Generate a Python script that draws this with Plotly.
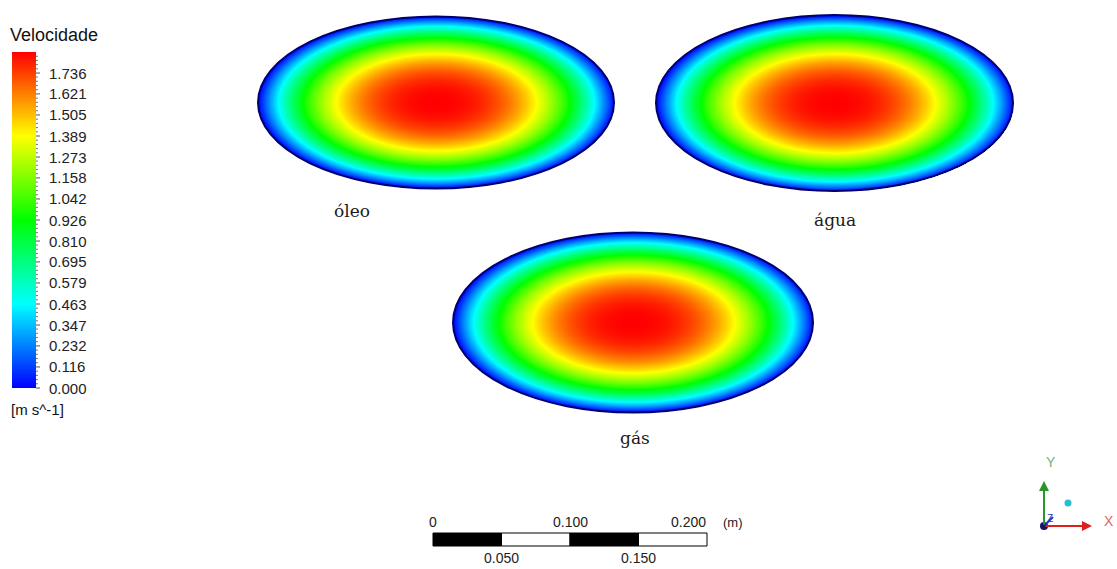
import numpy as np
import plotly.graph_objects as go

# --- data ---------------------------------------------------------------
phases = ["óleo", "água", "gás"]
u_peak = [1.852, 1.852, 1.852]          # peak velocity on each section [m/s]
profile_exp = 2.4                        # shape exponent of the velocity profile
v_min, v_max = 0.0, 1.852                # legend range [m/s]
legend_ticks = [0.000, 0.116, 0.232, 0.347, 0.463, 0.579, 0.695, 0.810,
                0.926, 1.042, 1.158, 1.273, 1.389, 1.505, 1.621, 1.736]
ruler_top = [0.0, 0.100, 0.200]
ruler_bottom = [0.050, 0.150]
ruler_segments = [0.0, 0.05, 0.10, 0.15, 0.20]

# --- view geometry (metres, 1370 px per metre) --------------------------
W, H = 1117, 569
PPM = 1370.0
ORIGIN_PX = 433.0


def mx(px):
    return (px - ORIGIN_PX) / PPM


def my(py):
    return (H - py) / PPM


def pxp(px, py):
    return px / W, 1 - py / H


# section centres / semi-axes in metres
sections = [
    dict(cx=mx(436.0), cy=my(102.5), a=178.0 / PPM, b=86.0 / PPM, lab=(352, 211)),
    dict(cx=mx(834.5), cy=my(103.0), a=178.5 / PPM, b=88.0 / PPM, lab=(835, 220)),
    dict(cx=mx(633.0), cy=my(322.5), a=180.0 / PPM, b=90.0 / PPM, lab=(635, 438)),
]

rainbow = [
    [0.00, "rgb(0,0,255)"],
    [0.25, "rgb(0,255,255)"],
    [0.50, "rgb(0,255,0)"],
    [0.75, "rgb(255,255,0)"],
    [1.00, "rgb(255,0,0)"],
]

fig = go.Figure()
step = 1.0 / PPM
for sec, umax in zip(sections, u_peak):
    xs = np.arange(sec["cx"] - sec["a"], sec["cx"] + sec["a"] + step, step)
    ys = np.arange(sec["cy"] - sec["b"], sec["cy"] + sec["b"] + step, step)
    X, Y = np.meshgrid(xs, ys)
    r = np.sqrt(((X - sec["cx"]) / sec["a"]) ** 2 + ((Y - sec["cy"]) / sec["b"]) ** 2)
    z = umax * (1.0 - r ** profile_exp)
    z[r > 1.0] = np.nan
    fig.add_trace(go.Heatmap(x=xs, y=ys, z=z, coloraxis="coloraxis",
                             zsmooth=False, hoverinfo="skip"))

shapes = []
for sec in sections:
    shapes.append(dict(type="circle", xref="x", yref="y",
                       x0=sec["cx"] - sec["a"], x1=sec["cx"] + sec["a"],
                       y0=sec["cy"] - sec["b"], y1=sec["cy"] + sec["b"],
                       line=dict(color="rgb(0,0,110)", width=2), layer="above"))

# legend bar geometry (pixels) and its tick marks
BAR_L, BAR_R, BAR_TOP, BAR_BOT = 12, 36, 52, 388
bar_len = BAR_BOT - BAR_TOP


def bar_y(v):
    return 1 - (BAR_BOT - (v - v_min) / (v_max - v_min) * bar_len) / H


dv = legend_ticks[1] - legend_ticks[0]
for i, v in enumerate(legend_ticks):
    shapes.append(dict(type="line", xref="paper", yref="paper",
                       x0=BAR_R / W, x1=(BAR_R + 4) / W, y0=bar_y(v), y1=bar_y(v),
                       line=dict(color="#555", width=1)))
    for k in range(1, 5):
        vm = v + k * dv / 5
        if vm <= v_max:
            shapes.append(dict(type="line", xref="paper", yref="paper",
                               x0=BAR_R / W, x1=(BAR_R + 2) / W, y0=bar_y(vm), y1=bar_y(vm),
                               line=dict(color="#777", width=1)))

# ruler bar
y_lo, y_hi = my(546), my(533)
for i in range(len(ruler_segments) - 1):
    shapes.append(dict(type="rect", xref="x", yref="y",
                       x0=ruler_segments[i], x1=ruler_segments[i + 1],
                       y0=y_lo, y1=y_hi,
                       fillcolor="black" if i % 2 == 0 else "white",
                       line=dict(color="black", width=1)))

# axis triad dots
for (px, py, col, rad) in [(1068, 503, "rgb(40,190,210)", 3.5), (1044, 526, "rgb(20,20,110)", 4)]:
    x, y = pxp(px, py)
    shapes.append(dict(type="circle", xref="paper", yref="paper",
                       x0=x - rad / W, x1=x + rad / W, y0=y - rad / H, y1=y + rad / H,
                       fillcolor=col, line=dict(width=0)))

sans = "Liberation Sans, Arial, sans-serif"
serif = "DejaVu Serif, serif"

ann = []


def text(x, y, s, font, xref="paper", yref="paper", xanchor="center"):
    ann.append(dict(x=x, y=y, xref=xref, yref=yref, text=s, showarrow=False,
                    xanchor=xanchor, yanchor="middle", font=font))


for name, sec in zip(phases, sections):
    lx, ly = sec["lab"]
    text(mx(lx), my(ly), name, dict(family=serif, size=17, color="#1a1a1a"), "x", "y")

text(8 / W, 1 - 35 / H, "Velocidade", dict(family=sans, size=18, color="#111"), xanchor="left")
text(9 / W, 1 - 409 / H, "[m s^-1]", dict(family=sans, size=15, color="#111"), xanchor="left")

for v in legend_ticks:
    text(47 / W, bar_y(v), f"{v:.3f}", dict(family=sans, size=15, color="#222"), xanchor="left")

ruler_font = dict(family=sans, size=14, color="#222")
for v in ruler_top:
    if v == ruler_top[-1]:
        text(v + 1 / PPM, my(522), f"{v:.3f}", ruler_font, "x", "y", "right")
    else:
        text(v, my(522), "0" if v == 0 else f"{v:.3f}", ruler_font, "x", "y")
text(mx(733), my(522), "(m)", dict(family=sans, size=13, color="#222"), "x", "y")
for v in ruler_bottom:
    text(v, my(558), f"{v:.3f}", ruler_font, "x", "y")

# axis triad arrows and letters
ox, oy = pxp(1044, 526)
ann.append(dict(x=ox, y=1 - 481 / H, xref="paper", yref="paper", text="", showarrow=True,
                ax=0, ay=45, arrowhead=2, arrowsize=1, arrowwidth=2, arrowcolor="rgb(40,150,40)"))
ann.append(dict(x=1092 / W, y=oy, xref="paper", yref="paper", text="", showarrow=True,
                ax=-48, ay=0, arrowhead=2, arrowsize=1, arrowwidth=2, arrowcolor="rgb(225,30,30)"))
ann.append(dict(x=1053 / W, y=1 - 517 / H, xref="paper", yref="paper", text="", showarrow=True,
                ax=-9, ay=9, arrowhead=0, arrowwidth=2, arrowcolor="rgb(30,60,200)"))
text(1051 / W, 1 - 462 / H, "Y", dict(family=sans, size=14, color="rgb(110,180,110)"))
text(1109 / W, 1 - 521 / H, "X", dict(family=sans, size=14, color="rgb(225,100,100)"))
text(1050 / W, 1 - 518 / H, "Z", dict(family=sans, size=10, color="rgb(30,60,200)"))

fig.update_layout(
    width=W, height=H,
    margin=dict(l=0, r=0, t=0, b=0, pad=0, autoexpand=False),
    paper_bgcolor="white", plot_bgcolor="white",
    showlegend=False,
    xaxis=dict(range=[mx(0), mx(W)], visible=False, fixedrange=True),
    yaxis=dict(range=[my(H), my(0)], visible=False, fixedrange=True),
    coloraxis=dict(
        cmin=v_min, cmax=v_max, colorscale=rainbow,
        colorbar=dict(
            thickness=BAR_R - BAR_L, thicknessmode="pixels",
            len=bar_len, lenmode="pixels",
            x=BAR_L / W, xanchor="left", xref="paper", xpad=0,
            y=1 - BAR_BOT / H, yanchor="bottom", yref="paper", ypad=0,
            tickvals=legend_ticks, showticklabels=False, ticks="",
            outlinewidth=0,
        ),
    ),
    shapes=shapes,
    annotations=ann,
)

fig.write_html("out.html")
